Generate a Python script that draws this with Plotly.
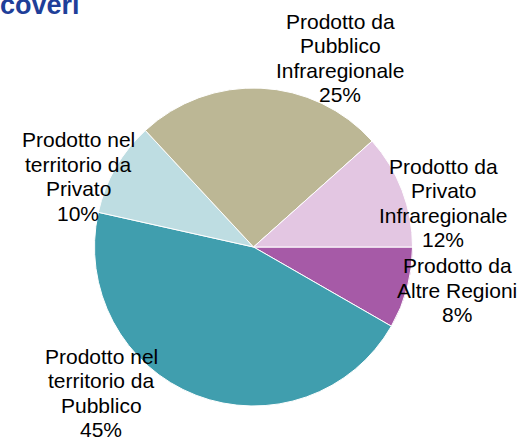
import plotly.graph_objects as go

# ---- data ----
categories = [
    "Prodotto da<br>Altre Regioni",
    "Prodotto nel<br>territorio da<br>Pubblico",
    "Prodotto nel<br>territorio da<br>Privato",
    "Prodotto da<br>Pubblico<br>Infraregionale",
    "Prodotto da<br>Privato<br>Infraregionale",
]
values = [8.3, 45.2, 9.6, 25.3, 11.6]
colors = ["#A65AA7", "#409EAE", "#BEDDE2", "#BCB795", "#E3C6E2"]
title_text = "coveri"

# label anchor positions (pixels, centre of text block)
label_pos = [(457, 290), (101, 393), (78, 176.5), (340, 58), (443, 203)]

W, H = 521, 438
FONT = "Arial, Liberation Sans, sans-serif"
LINE = 24.5

cx, cy, r = 253.5, 247, 159

fig = go.Figure(go.Pie(
    labels=categories,
    values=values,
    sort=False,
    direction="clockwise",
    rotation=90,
    marker=dict(colors=colors, line=dict(color="white", width=1)),
    textinfo="none",
    hoverinfo="label+percent",
    showlegend=False,
    domain=dict(x=[(cx - r) / W, (cx + r) / W], y=[(H - cy - r) / H, (H - cy + r) / H]),
))

total = sum(values)
annotations = []
for cat, v, (px, py) in zip(categories, values, label_pos):
    lines = cat.split("<br>") + [f"{round(v / total * 100)}%"]
    n = len(lines)
    for i, ln in enumerate(lines):
        ly = py + (i - (n - 1) / 2) * LINE
        annotations.append(dict(
            text=ln, x=px / W, y=1 - ly / H, xref="paper", yref="paper",
            xanchor="center", yanchor="middle", showarrow=False,
            font=dict(family=FONT, size=21, color="#000000"),
        ))

annotations.append(dict(
    text=f"<b>{title_text}</b>", x=0, y=1, xref="paper", yref="paper",
    xanchor="left", yanchor="top", showarrow=False, xshift=-2, yshift=12,
    font=dict(family=FONT, size=27, color="#1F3F99"),
))

fig.update_layout(
    width=W, height=H,
    margin=dict(l=0, r=0, t=0, b=0),
    paper_bgcolor="white", plot_bgcolor="white",
    annotations=annotations,
)

fig.write_html(
    "out.html",
    config={"displayModeBar": False},
    post_script="document.body.style.margin='0';document.body.style.overflow='hidden';",
)
